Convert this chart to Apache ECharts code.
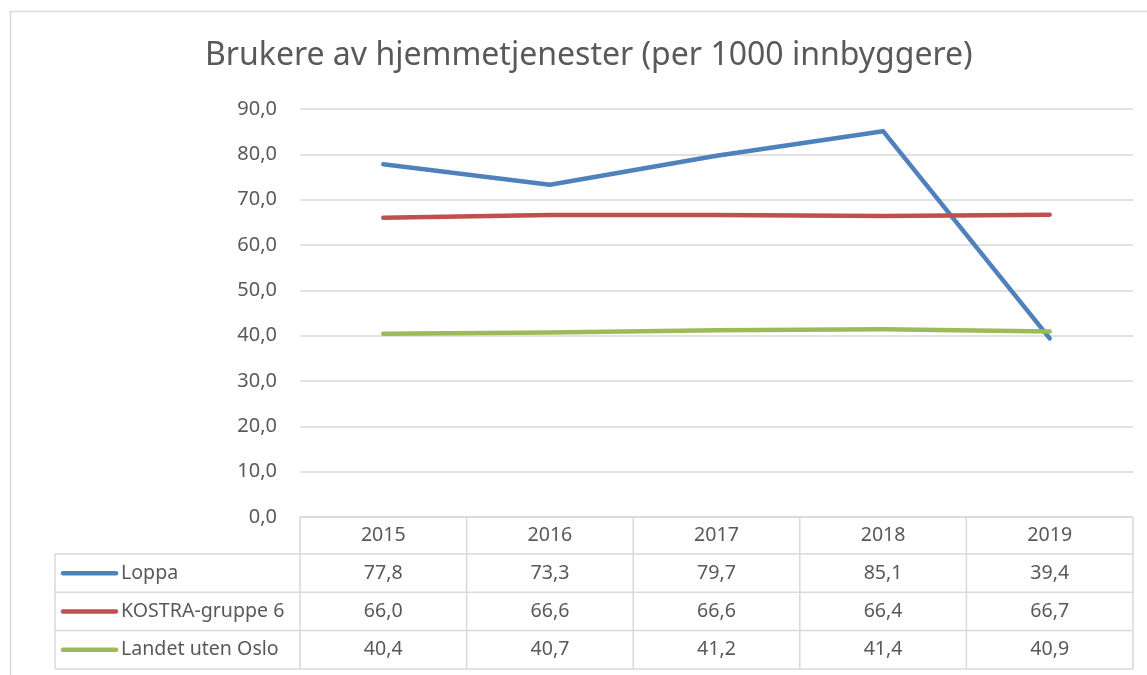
<!DOCTYPE html>
<html>
<head>
<meta charset="utf-8">
<script src="https://cdn.jsdelivr.net/npm/echarts@6/dist/echarts.min.js"></script>
<style>
  html, body { margin: 0; padding: 0; background: #fff; }
  #chart { width: 1147px; height: 675px; }
</style>
</head>
<body>
<div id="chart"></div>
<script>
// --- Data ---
const years = ['2015', '2016', '2017', '2018', '2019'];
const loppa = [77.8, 73.3, 79.7, 85.1, 39.4];
const kostra = [66.0, 66.6, 66.6, 66.4, 66.7];
const landet = [40.4, 40.7, 41.2, 41.4, 40.9];
const seriesNames = ['Loppa', 'KOSTRA-gruppe 6', 'Landet uten Oslo'];
const seriesColors = ['#4f81bd', '#c0504d', '#9bbb59'];
const yTicks = { min: 0, max: 90, interval: 10 };

const FONT = 'Noto Sans';
const TEXT = '#595959';
const BORDER = '#d9d9d9';

function fmt(v) {
  return v.toFixed(1).replace('.', ',');
}

const chart = echarts.init(document.getElementById('chart'), null, { renderer: 'canvas' });
const allSeries = [loppa, kostra, landet];

chart.setOption({
  backgroundColor: '#fff',
  animation: false,
  title: {
    text: 'Brukere av hjemmetjenester (per 1000 innbyggere)',
    left: 200,
    top: 35,
    textStyle: { color: TEXT, fontFamily: FONT, fontSize: 32, fontWeight: 'normal' },
  },
  grid: { left: 300, right: 14, top: 109, bottom: 158 },
  xAxis: {
    type: 'category',
    data: years,
    boundaryGap: true,
    axisLine: { show: false },
    axisTick: { show: false },
    axisLabel: { show: false },
  },
  yAxis: {
    type: 'value',
    min: yTicks.min,
    max: yTicks.max,
    interval: yTicks.interval,
    axisLine: { show: false },
    axisTick: { show: false },
    axisLabel: { color: TEXT, fontFamily: FONT, fontSize: 20, margin: 23, formatter: fmt },
    splitLine: { lineStyle: { color: BORDER, width: 1.5 } },
  },
  series: allSeries.map((d, i) => ({
    name: seriesNames[i],
    type: 'line',
    data: d,
    symbol: 'none',
    lineStyle: { color: seriesColors[i], width: 4.5, cap: 'round', join: 'round' },
    itemStyle: { color: seriesColors[i] },
  })),
});

// --- Data table under the plot ---
function buildTable() {
  const g = [];
  const xs = years.map(y => chart.convertToPixel({ xAxisIndex: 0 }, y));
  const band = xs.length > 1 ? xs[1] - xs[0] : 160;
  const tLeft = xs[0] - band / 2;
  const tRight = xs[xs.length - 1] + band / 2;
  const top = chart.convertToPixel({ yAxisIndex: 0 }, 0);
  const headH = 37;
  const rowH = 38.3;
  const labelLeft = 55;
  const bottom = top + headH + rowH * seriesNames.length;
  const line = (x1, y1, x2, y2) => ({
    type: 'line',
    shape: { x1, y1, x2, y2 },
    style: { stroke: BORDER, lineWidth: 1.5 },
    z: 10,
  });
  const text = (x, y, t, align) => ({
    type: 'text',
    x, y,
    style: { text: t, fill: TEXT, font: `19.6px "${FONT}"`, align: align || 'center', verticalAlign: 'middle' },
    z: 11,
  });

  // chart area border (left + top visible)
  g.push({
    type: 'rect',
    shape: { x: 10.5, y: 11.5, width: 1200, height: 700 },
    style: { fill: null, stroke: BORDER, lineWidth: 1.5 },
    z: 1,
  });

  // header row
  g.push(line(tLeft, top, tRight, top));
  xs.forEach((x, i) => g.push(text(x, top + headH / 2, years[i])));

  // body rows
  for (let r = 0; r <= seriesNames.length; r++) {
    const y = top + headH + rowH * r;
    g.push(line(labelLeft, y, tRight, y));
  }
  g.push(line(labelLeft, top + headH, labelLeft, bottom));
  for (let c = 0; c <= xs.length; c++) {
    const x = tLeft + band * c;
    g.push(line(x, top, x, bottom));
  }
  seriesNames.forEach((name, r) => {
    const cy = top + headH + rowH * r + rowH / 2;
    g.push({
      type: 'line',
      shape: { x1: 63, y1: cy, x2: 116, y2: cy },
      style: { stroke: seriesColors[r], lineWidth: 4.5, lineCap: 'round' },
      z: 11,
    });
    g.push(text(121, cy, name, 'left'));
    allSeries[r].forEach((v, c) => g.push(text(xs[c], cy, fmt(v))));
  });

  chart.setOption({ graphic: g });
}

buildTable();
</script>
</body>
</html>
